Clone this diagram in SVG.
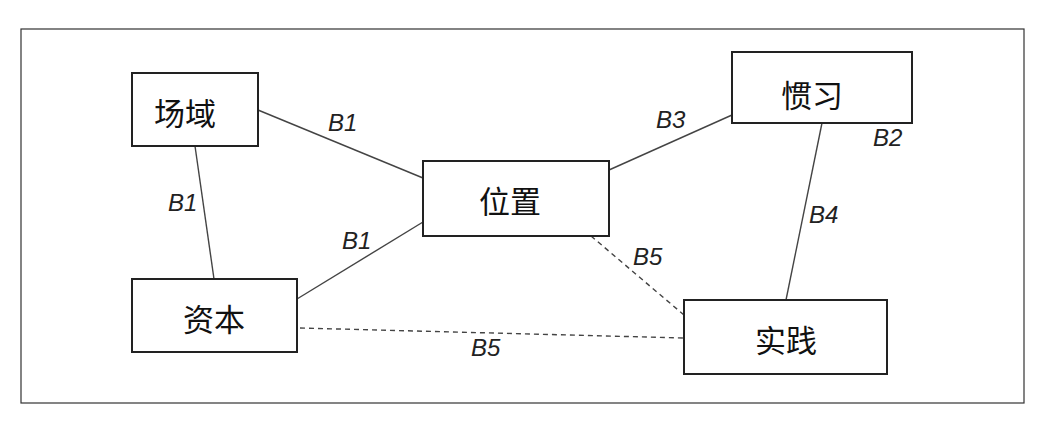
<svg xmlns="http://www.w3.org/2000/svg" width="1042" height="421" viewBox="0 0 1042 421">
<style>
.frame{fill:#fff;stroke:#333;stroke-width:1.2}
.box{fill:#fff;stroke:#222;stroke-width:2}
.ln{stroke:#444;stroke-width:1.4;fill:none}
.dash{stroke:#444;stroke-width:1.4;fill:none;stroke-dasharray:5 4}
.nt{font-family:"Noto Sans CJK SC",sans-serif;font-size:31px;fill:#111;text-anchor:middle;dominant-baseline:central}
.lb{font-family:"Liberation Sans",sans-serif;font-style:italic;font-size:24px;fill:#222}
</style>
<rect width="1042" height="421" fill="#fff"/>
<rect class="frame" x="21" y="29" width="1003" height="374"/>
<g id="connectors">
<line class="ln" x1="258" y1="110" x2="423" y2="178"/>
<line class="ln" x1="195" y1="146" x2="214" y2="279"/>
<line class="ln" x1="297" y1="299" x2="423" y2="222"/>
<line class="ln" x1="609" y1="170" x2="732" y2="115"/>
<line class="ln" x1="822" y1="123" x2="786" y2="300"/>
<line class="dash" x1="591" y1="236" x2="684" y2="315"/>
<line class="dash" x1="300" y1="328" x2="684" y2="338"/>
<text class="lb" x="328" y="131">B1</text>
<text class="lb" x="168" y="211">B1</text>
<text class="lb" x="342" y="249">B1</text>
<text class="lb" x="656" y="128">B3</text>
<text class="lb" x="873" y="146">B2</text>
<text class="lb" x="809" y="223">B4</text>
<text class="lb" x="633" y="265">B5</text>
<text class="lb" x="471" y="356">B5</text>
</g>
<g id="changyu"><rect class="box" x="132" y="73" width="126" height="73"/><text class="nt" x="185" y="111">场域</text></g>
<g id="weizhi"><rect class="box" x="423" y="161" width="186" height="75"/><text class="nt" x="510" y="199">位置</text></g>
<g id="guanxi"><rect class="box" x="732" y="52" width="180" height="71"/><text class="nt" x="812" y="93">惯习</text></g>
<g id="ziben"><rect class="box" x="132" y="279" width="165" height="73"/><text class="nt" x="214" y="317">资本</text></g>
<g id="shijian"><rect class="box" x="684" y="300" width="203" height="74"/><text class="nt" x="786" y="338">实践</text></g>
</svg>
